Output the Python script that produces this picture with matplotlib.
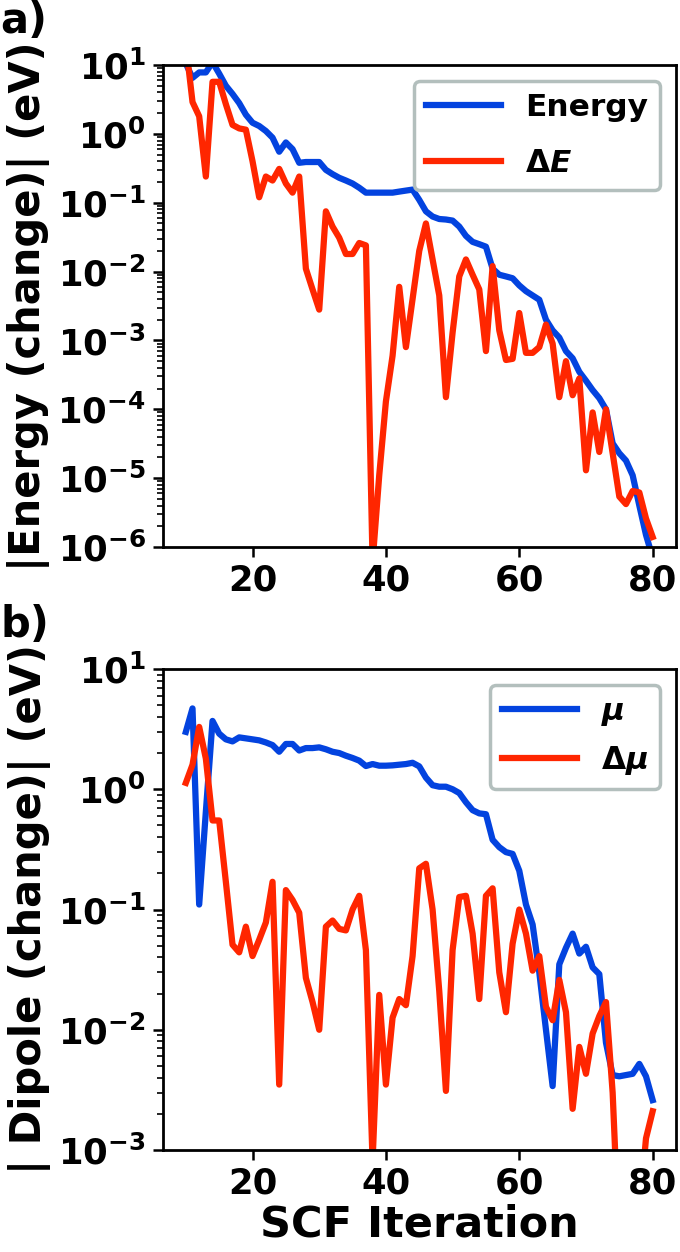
import numpy as np
import matplotlib
matplotlib.use("Agg")
import matplotlib.pyplot as plt
from matplotlib.ticker import LogLocator, NullFormatter

# SCF iterations
iteracoes = np.arange(10, 81)

# panel a) energy and energy change (eV)
energia = [10.5, 6.5, 7.8, 7.8, 11, 7.5, 5.0, 3.8, 2.8, 1.9,
           1.45, 1.3, 1.1, 0.88, 0.55, 0.75, 0.6, 0.38, 0.39, 0.39,
           0.39, 0.3, 0.26, 0.23, 0.21, 0.19, 0.165, 0.14, 0.14, 0.14,
           0.14, 0.14, 0.145, 0.15, 0.155, 0.11, 0.075, 0.063, 0.058, 0.057,
           0.055, 0.045, 0.033, 0.027, 0.025, 0.023, 0.011, 0.009, 0.0085, 0.008,
           0.0063, 0.0052, 0.0045, 0.0039, 0.002, 0.0014, 0.0011, 7e-4, 5.5e-4, 3.5e-4,
           2.6e-4, 1.9e-4, 1.45e-4, 1.0e-4, 3.2e-5, 2.3e-5, 1.8e-5, 1.1e-5, 4e-6, 1.5e-6,
           7e-7]
delta_e = [20, 2.9, 1.8, 0.24, 5.7, 5.7, 2.7, 1.35, 1.2, 1.15,
           0.4, 0.12, 0.24, 0.21, 0.31, 0.19, 0.14, 0.24, 0.011, 0.0055,
           0.0028, 0.075, 0.045, 0.031, 0.018, 0.018, 0.026, 0.024, 6e-7, 1.1e-5,
           1.3e-4, 6e-4, 6e-3, 8e-4, 4e-3, 0.02, 0.05, 0.015, 4.5e-3, 1.5e-4,
           1.3e-3, 8.5e-3, 0.015, 0.009, 5.5e-3, 7e-4, 0.012, 1.4e-3, 5.2e-4, 5.4e-4,
           2.5e-3, 6.6e-4, 6.6e-4, 8e-4, 1.7e-3, 9e-4, 1.5e-4, 5e-4, 1.6e-4, 2.8e-4,
           1.3e-5, 9e-5, 2.4e-5, 1e-4, 2.3e-5, 5.4e-6, 4.2e-6, 6.5e-6, 6.2e-6, 2.6e-6,
           1.4e-6]

# panel b) dipole and dipole change
dipolo = [3.0, 4.7, 0.11, 0.65, 3.7, 2.9, 2.6, 2.5, 2.7, 2.65,
          2.6, 2.55, 2.45, 2.33, 2.05, 2.38, 2.38, 2.1, 2.2, 2.2,
          2.23, 2.15, 2.05, 2.0, 1.9, 1.82, 1.73, 1.56, 1.62, 1.57,
          1.57, 1.58, 1.6, 1.62, 1.66, 1.55, 1.25, 1.08, 1.05, 1.05,
          1.0, 0.93, 0.78, 0.67, 0.63, 0.62, 0.38, 0.33, 0.3, 0.29,
          0.21, 0.11, 0.075, 0.03, 0.01, 0.0034, 0.035, 0.048, 0.063, 0.043,
          0.049, 0.033, 0.029, 0.0078, 0.0042, 0.0041, 0.0042, 0.0043, 0.0052, 0.0041,
          0.0026]
delta_mu = [1.13, 1.6, 3.3, 1.8, 0.55, 0.55, 0.17, 0.051, 0.044, 0.072,
            0.041, 0.056, 0.078, 0.17, 0.0035, 0.145, 0.12, 0.094, 0.027, 0.017,
            0.01, 0.072, 0.081, 0.069, 0.067, 0.1, 0.13, 0.046, 8e-4, 0.0195,
            0.0035, 0.0126, 0.018, 0.016, 0.041, 0.22, 0.24, 0.1, 0.021, 0.0031,
            0.046, 0.127, 0.13, 0.063, 0.018, 0.13, 0.15, 0.03, 0.014, 0.052,
            0.1, 0.063, 0.031, 0.041, 0.0155, 0.012, 0.026, 0.014, 0.0022, 0.0072,
            0.0043, 0.0093, 0.013, 0.017, 0.003, 1.5e-4, 4e-5, 3e-5, 3e-4, 1.25e-3,
            2.1e-3]

azul = "#0343df"
vermelho = "#ff2600"

plt.rcParams["font.family"] = "DejaVu Sans"
plt.rcParams["font.weight"] = "bold"
plt.rcParams["mathtext.fontset"] = "custom"
plt.rcParams["mathtext.rm"] = "DejaVu Sans:bold"
plt.rcParams["mathtext.bf"] = "DejaVu Sans:bold"
plt.rcParams["mathtext.it"] = "DejaVu Sans:bold:italic"
plt.rcParams["axes.linewidth"] = 2.0

fig = plt.figure(figsize=(6.8, 12.52), dpi=100)
W, H = 680, 1252
ax1 = fig.add_axes([162.5 / W, 1 - 547 / H, (676 - 162.5) / W, (547 - 65) / H])
ax2 = fig.add_axes([162.5 / W, 1 - 1150 / H, (676 - 162.5) / W, (1150 - 669) / H])


def estilo(ax, ymin, ymax, ylabel, espaco):
    ax.set_yscale("log")
    ax.set_ylim(ymin, ymax)
    ax.set_xlim(6.5, 83.5)
    ax.set_xticks([20, 40, 60, 80])
    ax.set_yticks(10.0 ** np.arange(np.log10(ymin), np.log10(ymax) + 1))
    ax.yaxis.set_minor_locator(LogLocator(base=10, subs=np.arange(2, 10), numticks=100))
    ax.yaxis.set_minor_formatter(NullFormatter())
    ax.tick_params(which="major", length=7, width=1.8, labelsize=25.5, pad=5)
    ax.tick_params(which="minor", length=4, width=1.2)
    ax.set_ylabel(ylabel, fontsize=30, fontweight="bold", labelpad=5)
    leg = ax.legend(loc="upper right", fontsize=22.5, handlelength=2.4,
                    handletextpad=0.75, labelspacing=espaco,
                    framealpha=1, fancybox=True)
    leg.get_frame().set_edgecolor("#b3bfbd")
    leg.get_frame().set_linewidth(2.5)


ax1.plot(iteracoes, energia, color=azul, lw=4.5, label="Energy")
ax1.plot(iteracoes, delta_e, color=vermelho, lw=4.5, label=r"$\Delta E$")
estilo(ax1, 1e-6, 1e1, "|Energy (change)| (eV)", 0.85)

ax2.plot(iteracoes, dipolo, color=azul, lw=4.5, label=r"$\mu$")
ax2.plot(iteracoes, delta_mu, color=vermelho, lw=4.5, label=r"$\Delta\mu$")
estilo(ax2, 1e-3, 1e1, "| Dipole (change)| (eV)", 0.5)
ax2.set_xlabel("SCF Iteration", fontsize=31, fontweight="bold", labelpad=2)

fig.text(0.0, 1.0, "a)", fontsize=30, fontweight="bold", ha="left", va="top")
fig.text(0.0, 1 - 604 / H, "b)", fontsize=30, fontweight="bold", ha="left", va="top")

fig.savefig("out.png", dpi=100)
